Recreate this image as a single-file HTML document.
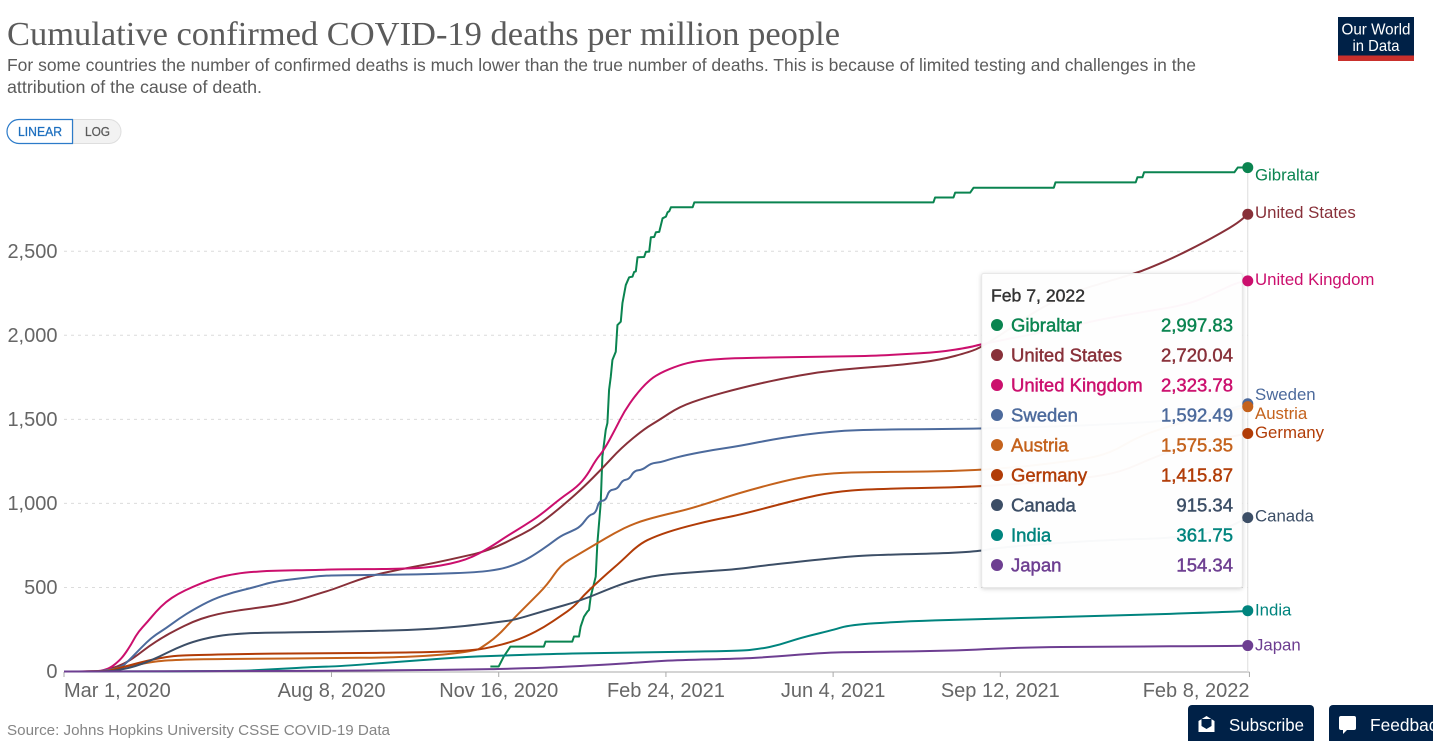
<!DOCTYPE html>
<html lang="en">
<head>
<meta charset="utf-8">
<title>Cumulative confirmed COVID-19 deaths per million people</title>
<style>
html,body{margin:0;padding:0;background:#fff;width:1433px;height:741px;overflow:hidden}
svg{display:block;font-family:"Liberation Sans",sans-serif}
.tt{stroke-width:.45px;font-size:18.5px}
</style>
</head>
<body>
<svg id="chart" width="1433" height="741" viewBox="0 0 1433 741" xmlns="http://www.w3.org/2000/svg">
  <text x="7" y="45" font-family="'Liberation Serif',serif" font-size="34" fill="#5b5b5b" textLength="833" lengthAdjust="spacingAndGlyphs">Cumulative confirmed COVID-19 deaths per million people</text>
  <text x="7" y="71" font-size="17.5" fill="#5b5b5b" textLength="1189" lengthAdjust="spacingAndGlyphs">For some countries the number of confirmed deaths is much lower than the true number of deaths. This is because of limited testing and challenges in the</text>
  <text x="7" y="93" font-size="17.5" fill="#5b5b5b" textLength="255" lengthAdjust="spacingAndGlyphs">attribution of the cause of death.</text>

  <g>
    <path d="M73 119.5H109a11.5 11.5 0 0 1 0 24H73Z" fill="#f2f2f2" stroke="#dedede"/>
    <path d="M72.5 119.5H19a12 12 0 0 0 0 24H72.5Z" fill="#fff" stroke="#2c7bc9" stroke-width="1.2"/>
    <text x="18" y="136" font-size="12.5" fill="#1d6fbf" stroke="#1d6fbf" stroke-width=".25" textLength="44" lengthAdjust="spacingAndGlyphs">LINEAR</text>
    <text x="85" y="136" font-size="12.5" fill="#5b5b5b" stroke="#5b5b5b" stroke-width=".25" textLength="25" lengthAdjust="spacingAndGlyphs">LOG</text>
  </g>

  <g>
    <rect x="1338" y="17" width="76" height="44" fill="#002147"/>
    <rect x="1338" y="55.5" width="76" height="5.5" fill="#c9302c"/>
    <text x="1376" y="34.5" text-anchor="middle" font-size="16" fill="#fff" textLength="69" lengthAdjust="spacingAndGlyphs">Our World</text>
    <text x="1376" y="51" text-anchor="middle" font-size="16" fill="#fff" textLength="47" lengthAdjust="spacingAndGlyphs">in Data</text>
  </g>

  <g id="grid"></g>
  <g id="yLabels"></g>
  <g id="xAxis"></g>
  <g id="lines"></g>

  <g id="tooltip">
    <rect x="981.7" y="273.5" width="260.6" height="314" rx="2" fill="#fff" fill-opacity="0.97" stroke="#e8e8e8" style="filter:drop-shadow(0 1.5px 2px rgba(0,0,0,.18))"/>
    <text x="991" y="301.5" font-size="17.5" fill="#333" stroke="#333" stroke-width=".4" textLength="94" lengthAdjust="spacingAndGlyphs">Feb 7, 2022</text>
  </g>

  <g id="dots"></g>
  <g id="endLabels"></g>

  <text x="7" y="735" font-size="15" fill="#858585" textLength="383" lengthAdjust="spacingAndGlyphs">Source: Johns Hopkins University CSSE COVID-19 Data</text>

  <g>
    <path d="M1188 741V709a4 4 0 0 1 4-4H1310a4 4 0 0 1 4 4V741Z" fill="#002147"/>
    <path d="M1206.500 716l8 5v11h-16v-11Zm-5 3v7l5 3 5-3v-7Z" fill="#fff"/>
    <text x="1229" y="731" font-size="17.500" fill="#fff" textLength="75" lengthAdjust="spacingAndGlyphs">Subscribe</text>
  </g>
  <g>
    <path d="M1329 741V709a4 4 0 0 1 4-4H1433V741Z" fill="#002147"/>
    <path d="M1341 716h13a2 2 0 0 1 2 2v10a2 2 0 0 1-2 2h-7l-4 4v-4h-2a2 2 0 0 1-2-2v-10a2 2 0 0 1 2-2Z" fill="#fff"/>
    <text x="1370" y="731" font-size="17.500" fill="#fff" textLength="76" lengthAdjust="spacingAndGlyphs">Feedback</text>
  </g>
</svg>

<script>
// Chart data: days since Mar 1, 2020 and cumulative deaths per million
const gibraltarDays = [255,260,263,267,287,288,304,305,308,309,311,313,314,315,318,319,321,322,324,325,326,327,328,330,331,333,334,336,338,340,341,342,343,347,348,350,351,353,354,356,358,360,361,362,363,376,377,520,521,532,533,542,544,592,593,641,642,645,646,700,702,708];
const gibraltarValues = [30,30,89,148,148,178,178,208,208,267,326,356,366,445,564,763,1002,1278,1437,1478,1675,1752,1853,1902,2061,2081,2192,2299,2345,2349,2377,2380,2464,2466,2496,2498,2583,2585,2613,2615,2696,2706,2732,2738,2762,2762,2791,2791,2820,2820,2849,2849,2878,2878,2910,2910,2940,2940,2970,2970,2997.83,2997.83];

const usDays = [0,20,24,32,38,44,51,59,67,77,87,97,109,125,137,153,161,181,201,221,241,249,259,269,279,289,301,311,322,333,347,356,368,384,404,428,452,476,500,524,542,549,562,582,602,621,641,651,665,681,692,702,708];
const usValues = [0,0,5,29,58,98,152,203,247,296,330,352,370,391,415,465,489,564,608,644,689,707,742,792,842,911,1010,1099,1209,1328,1443,1496,1575,1631,1685,1740,1782,1806,1823,1853,1902,1932,2014,2151,2252,2311,2369,2408,2468,2549,2609,2668,2720.04];

const ukDays = [0,20,24,28,33,36,40,44,50,55,61,68,77,87,97,109,125,153,161,201,221,241,255,265,275,285,297,307,313,318,323,330,335,342,349,356,368,378,392,404,440,482,500,524,542,549,602,618,642,671,686,701,708];
const ukValues = [0,0,9,23,64,98,158,231,296,356,415,461,504,544,572,590,600,604,608,610,620,663,739,806,866,931,1030,1099,1169,1258,1318,1447,1546,1646,1724,1774,1823,1847,1859,1865,1871,1877,1886,1900,1929,1948,2051,2091,2133,2181,2240,2312,2323.78];

const swedenDays = [0,20,23,34,39,46,53,61,69,77,89,101,113,125,141,153,161,201,221,247,261,269,276,282,290,297,303,309,314,318,320,324,326,331,334,338,341,346,351,357,362,372,388,404,428,460,488,550,620,667,691,708];
const swedenValues = [0,0,5,21,68,140,207,257,316,366,430,471,499,534,554,568,572,576,580,590,608,633,663,699,753,806,832,861,931,941,1016,1016,1080,1084,1139,1143,1195,1199,1239,1245,1262,1288,1318,1341,1389,1431,1440,1444,1466,1496,1544,1592.49];

const austriaDays = [0,24,28,38,46,57,77,117,153,201,231,247,249,259,269,279,289,297,307,319,329,341,356,376,404,440,460,482,550,608,626,642,661,691,708];
const austriaValues = [0,0,9,33,45,64,73,76,79,84,102,128,138,207,316,415,515,634,693,763,822,882,925,971,1064,1157,1181,1187,1193,1258,1300,1395,1460,1538,1575.35];

const germanyDays = [0,25,29,47,57,65,77,117,153,221,247,257,267,277,287,297,305,311,318,325,333,344,354,368,388,404,440,460,482,550,612,632,651,669,703,708];
const germanyValues = [0,0,9,58,79,92,98,106,108,114,128,148,174,211,263,330,385,455,521,584,653,758,806,852,901,931,1026,1068,1086,1098,1151,1187,1270,1336,1407,1415.87];

const canadaDays = [0,27,32,38,47,57,67,77,89,101,117,153,161,211,241,261,269,289,309,329,341,356,376,404,416,460,482,542,562,621,666,693,708];
const canadaValues = [0,0,9,19,45,88,138,177,207,223,231,235,237,247,271,296,306,366,421,504,544,574,590,610,628,675,693,707,742,782,794,842,915.34];

const indiaDays = [0,100,125,153,161,201,241,261,289,329,404,416,428,440,460,470,500,542,621,702,708];
const indiaValues = [0,1,13,29,29,58,88,94,104,112,122,134,158,199,247,277,297,311,330,356,361.75];

const japanDays = [0,100,200,249,261,289,329,349,368,404,422,452,470,530,572,621,702,708];
const japanValues = [0,1,6,13,15,23,43,58,68,76,86,110,116,122,144,148,152,154.34];

const countryNames = ['Gibraltar','United States','United Kingdom','Sweden','Austria','Germany','Canada','India','Japan'];
const countryDays = [gibraltarDays,usDays,ukDays,swedenDays,austriaDays,germanyDays,canadaDays,indiaDays,japanDays];
const countryValues = [gibraltarValues,usValues,ukValues,swedenValues,austriaValues,germanyValues,canadaValues,indiaValues,japanValues];

const yTickValues = [0,500,1000,1500,2000,2500];
const xTickDays = [0,160,260,360,460,560,709];
const xTickLabels = ['Mar 1, 2020','Aug 8, 2020','Nov 16, 2020','Feb 24, 2021','Jun 4, 2021','Sep 12, 2021','Feb 8, 2022'];

// Styling (not data)
const countryColors = ['#0a8450','#883039','#cb0f6d','#4c6a9c','#c4621c','#b13c07','#3c4e66','#00847e','#6d3e91'];
const endLabelShift = [13,3.7,4,-4,12.5,4.5,4,5,5];

// Axis functions
function xScale(day){ return 64 + day * 1.672; }
function yScale(value){ return 671.5 - value * 0.1681; }
function commas(v,dec){ return v.toLocaleString('en-US',{minimumFractionDigits:dec,maximumFractionDigits:dec}); }

// Gibraltar is a staircase (small population), the others are drawn as smooth curves
function linePath(days, vals, smooth){
  const pts = days.map((d,j) => [xScale(d), yScale(vals[j])]);
  if (!smooth) return pts.map((p,j) => (j?'L':'M') + p[0].toFixed(2) + ' ' + p[1].toFixed(2)).join('');
  let s = 'M' + pts[0][0].toFixed(2) + ' ' + pts[0][1].toFixed(2);
  for (let j = 1; j < pts.length - 1; j++) {
    const mx = (pts[j][0] + pts[j+1][0]) / 2, my = (pts[j][1] + pts[j+1][1]) / 2;
    s += 'Q' + pts[j][0].toFixed(2) + ' ' + pts[j][1].toFixed(2) + ' ' + mx.toFixed(2) + ' ' + my.toFixed(2);
  }
  const e = pts[pts.length-1];
  return s + 'L' + e[0].toFixed(2) + ' ' + e[1].toFixed(2);
}

const NS = 'http://www.w3.org/2000/svg';
function mk(tag, parent, attrs, txt){
  const el = document.createElementNS(NS, tag);
  for (const k in attrs) el.setAttribute(k, attrs[k]);
  if (txt !== undefined) el.textContent = txt;
  parent.appendChild(el);
  return el;
}
const slug = s => s.toLowerCase().replace(/[^a-z0-9]+/g,'-');

const grid = document.getElementById('grid');
const yLabels = document.getElementById('yLabels');
yTickValues.forEach(v => {
  if (v > 0) {
    const g = mk('line', grid, {x1:64, x2:1248, y1:yScale(v), y2:yScale(v), stroke:'#dcdcdc', 'stroke-width':1, 'stroke-dasharray':'3 4'});
    
    
  }
  const t = mk('text', yLabels, {x:57.5, y:yScale(v)+6.5, 'text-anchor':'end', 'font-size':20, fill:'#666'}, commas(v,0));
  
  
});

const xAxis = document.getElementById('xAxis');
const axisLine = mk('line', xAxis, {x1:xScale(0), x2:xScale(xTickDays[xTickDays.length-1]), y1:672, y2:672, stroke:'#aaa', 'stroke-width':1});


const cursor = mk('line', xAxis, {x1:xScale(708), x2:xScale(708), y1:yScale(gibraltarValues[gibraltarValues.length-1]), y2:672, stroke:'#ddd', 'stroke-width':1});


xTickDays.forEach((d,i) => {
  const tk = mk('line', xAxis, {x1:xScale(d), x2:xScale(d), y1:672, y2:677, stroke:'#aaa', 'stroke-width':1});
  
  
  const first = i === 0, last = i === xTickDays.length-1;
  const lab = mk('text', xAxis, {x:xScale(d), y:697, 'text-anchor':first?'start':(last?'end':'middle'), 'font-size':20, fill:'#666'}, xTickLabels[i]);
  
  
});

const linesG = document.getElementById('lines');
const dotsG = document.getElementById('dots');
const endG = document.getElementById('endLabels');
const tipG = document.getElementById('tooltip');

countryNames.forEach((name,i) => {
  const days = countryDays[i], vals = countryValues[i], color = countryColors[i];
  const id = slug(name);
  const p = mk('path', linesG, {d:linePath(days, vals, i !== 0), fill:'none', stroke:color, 'stroke-width':2, 'stroke-linejoin':'round'});
  
  

  const lastDay = days[days.length-1], lastVal = vals[vals.length-1];
  const dot = mk('circle', dotsG, {cx:xScale(lastDay), cy:yScale(lastVal), r:5.5, fill:color});
  
  

  const lbl = mk('text', endG, {x:1255, y:yScale(lastVal)+endLabelShift[i], 'font-size':16.8, fill:color}, name);
  
  

  const rowY = 325 + i * 30;
  const md = mk('circle', tipG, {cx:997, cy:rowY, r:6, fill:color});
  
  
  const nm = mk('text', tipG, {x:1011, y:rowY+6.5, fill:color, stroke:color, class:'tt'}, name);
  
  
  const vl = mk('text', tipG, {x:1233, y:rowY+6.5, 'text-anchor':'end', fill:color, stroke:color, class:'tt'}, commas(lastVal,2));
  
  
});
</script>
</body>
</html>
